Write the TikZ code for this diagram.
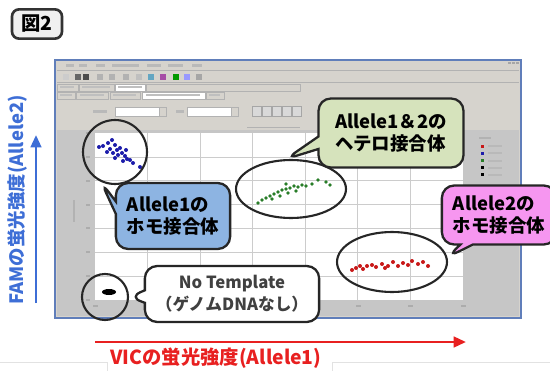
\documentclass[tikz,border=0pt]{standalone}
\usepackage{fontspec}
\setmainfont{Noto Sans CJK JP}
\usetikzlibrary{shapes.geometric,shapes.callouts,arrows.meta}
\definecolor{wingray}{RGB}{214,211,205}
\definecolor{plotgray}{RGB}{198,198,198}
\definecolor{winblue}{RGB}{96,126,186}
\definecolor{heteroback}{RGB}{214,227,188}
\definecolor{homoaback}{RGB}{141,180,226}
\definecolor{homobback}{RGB}{246,150,240}
\definecolor{famblue}{RGB}{62,110,214}
\definecolor{vicred}{RGB}{232,32,32}
\definecolor{dotblue}{RGB}{28,28,170}
\definecolor{dotgreen}{RGB}{40,125,40}
\definecolor{dotred}{RGB}{200,24,24}
\definecolor{faintline}{RGB}{226,226,226}

\begin{document}
\begin{tikzpicture}[x=0.02cm,y=-0.02cm,
  callout/.style={rectangle callout,draw=black!85,line width=1.3pt,rounded corners=7pt,
    align=left,font=\bfseries\fontsize{10.5}{13}\selectfont,inner xsep=0.22cm,inner ysep=0pt},
  ring/.style={draw=black!85,line width=1.2pt,inner sep=0pt,fill=none},
  smallbar/.style={fill=gray!55},
  tabbox/.style={draw=gray!60,line width=.3pt,fill=wingray}]
\useasboundingbox (0,0) rectangle (550,371);

% faint frames of the page
\draw[faintline] (0,362) -- (107,362) -- (107,371);
\draw[faintline] (332,371) -- (332,362) -- (550,362);

% figure number
\node[draw=black!80,line width=1.5pt,fill=gray!12,rounded corners=4pt,
  font=\bfseries\fontsize{11}{11}\selectfont,minimum width=1cm,minimum height=0.54cm] (fignum) at (37,24) {図2};

% software window
\draw[winblue,line width=1.2pt,fill=wingray] (55,60) rectangle (521,318);
\foreach \cx in {508,512,516} \fill[gray!70] (\cx,62) rectangle ++(3,2.5);
\foreach \mx/\mw in {66/8,79/8,96/9,112/27,147/14,168/15,192/10}
  \fill[smallbar] (\mx,64) rectangle ++(\mw,3);
\draw[gray!60,line width=.3pt] (57,70.5) -- (519,70.5);
\foreach \tx/\tc in {63/gray!40,75/black!60,83/black!70,97/gray!60,109/gray!60,123/gray!60,
  136/gray!50,148/cyan!50!gray,160/violet!70,173/green!60!black,184/blue!40,196/gray!70}
  \fill[\tc] (\tx,74) rectangle ++(6,6);
\draw[gray!60,line width=.3pt] (57,82.5) -- (519,82.5);
% tabs
\foreach \a/\b in {57/78,79/114,146/300} \draw[tabbox] (\a,84) rectangle (\b,91);
\draw[gray!60,line width=.3pt,fill=white] (115,84) rectangle (145,91);
\foreach \a/\b in {57/75,76/108,110/140,206/224} \draw[tabbox] (\a,92) rectangle (\b,99);
\draw[gray!60,line width=.3pt,fill=white] (142,92) rectangle (205,99);
\foreach \a/\b in {60/72,80/104,113/136,146/200,209/220} \fill[gray!50] (\a,94.5) rectangle (\b,96.5);
\foreach \a/\b in {60/74,82/110,118/142} \fill[gray!50] (\a,86.5) rectangle (\b,88.5);
% selection row
\fill[smallbar] (93,110) rectangle ++(14,3);
\draw[gray!60,fill=white,line width=.3pt] (115,107) rectangle (166,116);
\draw[gray!60,fill=wingray,line width=.3pt] (159,107) rectangle (166,116);
\fill[smallbar] (176,110) rectangle ++(8,3);
\draw[gray!60,fill=white,line width=.3pt] (187,107) rectangle (238,116);
\draw[gray!60,fill=wingray,line width=.3pt] (231,107) rectangle (238,116);
\foreach \bx in {252,262,272,282,292} \draw[gray!70,fill=gray!30,line width=.3pt] (\bx,106) rectangle ++(9,10);
\fill[gray!60] (247,127) rectangle (300,128.5);

% plot area
\fill[plotgray] (57,130) rectangle (519,316);
\fill[white] (95,133) rectangle (463,300);
\foreach \i in {1,...,6} \draw[gray!40,line width=.4pt] (95+52.5*\i,133) -- (95+52.5*\i,300);
\foreach \j in {1,...,6} \draw[gray!40,line width=.4pt] (95,133+23.86*\j) -- (463,133+23.86*\j);
\foreach \j in {0,...,7} \fill[gray!65] (86,132+23.86*\j) rectangle ++(4,2);
\foreach \i in {0,...,7} \fill[gray!65] (93+52.5*\i,305) rectangle ++(5,2);
\fill[gray!60] (73,200) rectangle (75,222);
% legend
\fill[gray!60] (479,137) rectangle ++(12,2);
\foreach \ly/\lc in {145/dotred,152/dotblue,159/dotgreen,166/black,173/black}{
  \fill[\lc] (481,\ly) rectangle ++(3,3);
  \fill[gray!55] (488,\ly+0.5) rectangle ++(14,2);
}

% data points
\foreach \px/\py in {103/146,108/143,112/140,115/145,110/149,117/150,120/148,122/153,118/155,
  125/156,127/159,130/160,123/161,133/163,140/167,115/158,107/152,99/147,113/153,126/150}
  \fill[dotblue] (\px,\py) circle[radius=2];
\foreach \px/\py in {258/203,262/200,266/198,270/196,274/194,272/199,278/192,282/190,286/189,
  290/188,288/193,294/186,298/187,302/185,306/186,296/191,280/196,312/184,318/180,326/182,330/185,286/184}
  \fill[dotgreen] (\px,\py) circle[radius=1.8];
\foreach \px/\py in {352/270,356/268,360/266,363/269,367/266,372/265,376/267,382/264,388/266,
  393/262,398/266,403/263,408/265,412/261,418/264,423/262,428/266,385/268}
  \fill[dotred] (\px,\py) circle[radius=2];
\fill[black] (109,292) ellipse[x radius=7,y radius=3];

% rings round the clusters
\node[ring,circle,minimum size=1.28cm] (homoaring) at (115,152) {};
\node[ring,ellipse,minimum width=2.2cm,minimum height=1.16cm] (heteroring) at (291,189) {};
\node[ring,ellipse,minimum width=2.2cm,minimum height=1.2cm] (homobring) at (392,262) {};
\node[ring,circle,minimum size=0.92cm] (ntcring) at (105,297) {};

% callouts
\node[callout,fill=heteroback,minimum width=2.9cm,minimum height=1.38cm,
  callout absolute pointer={(heteroring.100)}] (hetero) at (391,133)
  {Allele1＆2の\\ヘテロ接合体};
\node[callout,fill=homoaback,minimum width=2.2cm,minimum height=1.32cm,
  callout absolute pointer={(homoaring.245)}] (homoa) at (173,216)
  {Allele1の\\ホモ接合体};
\node[callout,fill=homobback,minimum width=2.2cm,minimum height=1.18cm,
  callout absolute pointer={(homobring.5)}] (homob) at (499,215)
  {Allele2の\\ホモ接合体};
\node[callout,fill=white,minimum width=3.0cm,minimum height=1.12cm,align=center,
  font=\bfseries\fontsize{9.5}{12.5}\selectfont,text=black!75,
  callout absolute pointer={(ntcring.0)}] (ntc) at (232,294)
  {No Template\\（ゲノムDNAなし）};

% axes
\coordinate (famfrom) at (36,303);
\coordinate (famto) at (36,135);
\draw[famblue,line width=1.5pt,-{Triangle[length=7pt,width=6pt]}] (famfrom) -- (famto);
\node[text=famblue,font=\bfseries\fontsize{10.5}{10.5}\selectfont,rotate=90] (famlabel) at (17,200)
  {FAMの蛍光強度(Allele2)};
\coordinate (vicfrom) at (95,342);
\coordinate (victo) at (466,342);
\draw[vicred,line width=1.5pt,-{Triangle[length=7pt,width=6pt]}] (vicfrom) -- (victo);
\node[text=vicred,font=\bfseries\fontsize{11}{11}\selectfont] (viclabel) at (216,358)
  {VICの蛍光強度(Allele1)};
\end{tikzpicture}
\end{document}
